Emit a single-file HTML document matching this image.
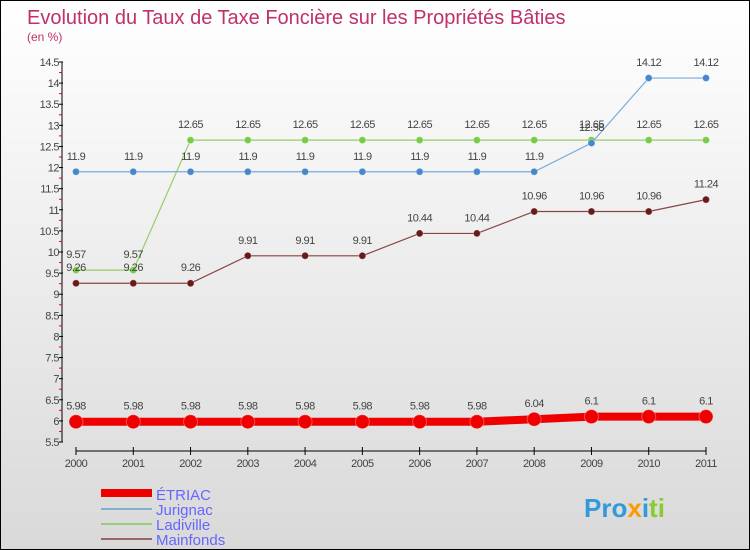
<!DOCTYPE html>
<html><head><meta charset="utf-8"><style>
body{margin:0}
#wrap{width:748px;height:548px;border:1px solid #000;position:relative;background:linear-gradient(#fff,#d9d9d9);font-family:"Liberation Sans",sans-serif;overflow:hidden}
</style></head><body>
<div id="wrap">
<svg id="svg" width="748" height="548" xmlns="http://www.w3.org/2000/svg">
<text x="26" y="23" font-size="20" fill="#c0306a">Evolution du Taux de Taxe Foncière sur les Propriétés Bâties</text>
<text x="26" y="40" font-size="12" fill="#c0306a">(en %)</text>
<g id="axes"></g><g id="series"></g>
<g>
<rect x="100" y="488" width="51" height="8" fill="#e00"/>
<text x="155" y="499" font-size="15" fill="#66f">ÉTRIAC</text>
<line x1="100" y1="508" x2="151" y2="508" stroke="#80b0d0" stroke-width="2"/>
<text x="155" y="514" font-size="15" fill="#66f">Jurignac</text>
<line x1="100" y1="523" x2="151" y2="523" stroke="#99cc77" stroke-width="2"/>
<text x="155" y="529" font-size="15" fill="#66f">Ladiville</text>
<line x1="100" y1="538" x2="151" y2="538" stroke="#996666" stroke-width="2"/>
<text x="155" y="544" font-size="15" fill="#66f">Mainfonds</text>
</g>
<text x="583" y="516" font-size="26" font-weight="bold"><tspan fill="#3399dd">Pro</tspan><tspan fill="#ff9900">x</tspan><tspan fill="#3399dd">i</tspan><tspan fill="#88cc33">ti</tspan></text>
</svg></div>
<script>
const years=[2000,2001,2002,2003,2004,2005,2006,2007,2008,2009,2010,2011];
const etriac=[5.98,5.98,5.98,5.98,5.98,5.98,5.98,5.98,6.04,6.1,6.1,6.1];
const jurignac=[11.9,11.9,11.9,11.9,11.9,11.9,11.9,11.9,11.9,12.58,14.12,14.12];
const ladiville=[9.57,9.57,12.65,12.65,12.65,12.65,12.65,12.65,12.65,12.65,12.65,12.65];
const mainfonds=[9.26,9.26,9.26,9.91,9.91,9.91,10.44,10.44,10.96,10.96,10.96,11.24];
const yTicks=[5.5,6,6.5,7,7.5,8,8.5,9,9.5,10,10.5,11,11.5,12,12.5,13,13.5,14,14.5];
const NS="http://www.w3.org/2000/svg";
const X=i=>75+i*(630/11);
const Y=v=>441-(v-5.5)*(380/9);
function mk(p,t,a){const e=document.createElementNS(NS,t);for(const k in a)e.setAttribute(k,a[k]);p.appendChild(e);return e;}
const ax=document.getElementById('axes'),sg=document.getElementById('series');
const yl=mk(ax,'line',{x1:61,y1:Y(14.5),x2:61,y2:Y(5.5),stroke:'#000'});


yTicks.forEach(v=>{
 mk(ax,'line',{x1:58,y1:Y(v),x2:62,y2:Y(v),stroke:'#000'});
 if(v<14.5)mk(ax,'line',{x1:58,y1:Y(v+0.25),x2:61,y2:Y(v+0.25),stroke:'#e00'});
 const t=mk(ax,'text',{x:58,y:Y(v)+4,'font-size':11,fill:'#444','text-anchor':'end','letter-spacing':'-0.5'});
 t.textContent=v;
 
 
});
const xl=mk(ax,'line',{x1:75,y1:450,x2:705,y2:450,stroke:'#000'});


years.forEach((y,i)=>{
 mk(ax,'line',{x1:X(i),y1:446,x2:X(i),y2:454,stroke:'#000'});
 const t=mk(ax,'text',{x:X(i),y:466,'font-size':11,fill:'#444','text-anchor':'middle','letter-spacing':'-0.5'});
 t.textContent=y;
 
 
});
function series(name,vals,color,w,r,dot){
 const g=mk(sg,'g',{});
 
 
 mk(g,'polyline',{points:vals.map((v,i)=>X(i)+','+Y(v)).join(' '),fill:'none',stroke:color,'stroke-width':w});
 vals.forEach((v,i)=>{
  const c=mk(g,'circle',{cx:X(i),cy:Y(v),r:r,fill:dot,stroke:'#fff','stroke-opacity':0.3});
  
  
  const t=mk(g,'text',{x:X(i),y:Y(v)-12,'font-size':11,fill:'#444','text-anchor':'middle','letter-spacing':'-0.5'});
  t.textContent=v;
  
  
 });
}
series('ladiville',ladiville,'#99cc66',1.2,3.5,'#77cc44');
series('jurignac',jurignac,'#77aadd',1.2,3.5,'#4488cc');
series('mainfonds',mainfonds,'#884444',1.2,3.5,'#661a1a');
series('etriac',etriac,'#ee0000',8,7,'#ee0000');
</script>
</body></html>
